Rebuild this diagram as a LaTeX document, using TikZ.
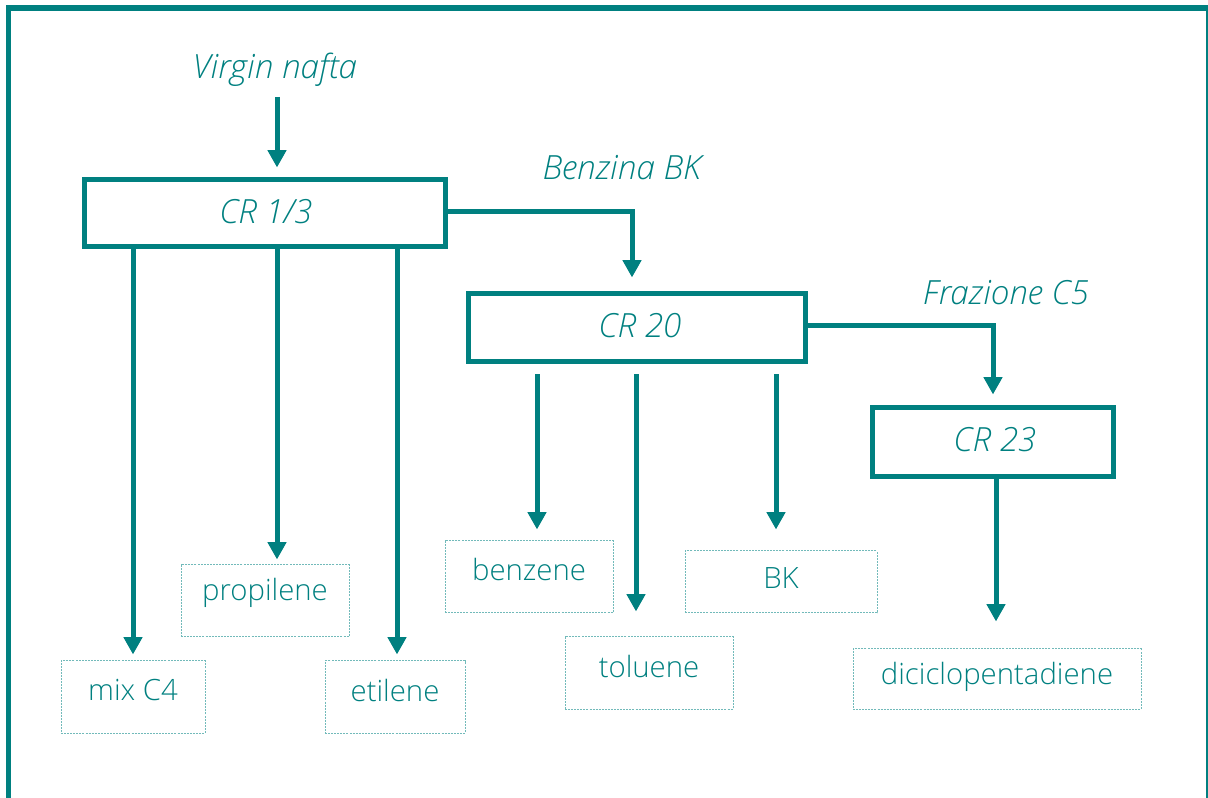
\documentclass[tikz,border=0pt]{standalone}
\usepackage{fontspec}
\IfFontExistsTF{Open Sans Light}{\setmainfont{Open Sans Light}}{\setmainfont{Open Sans}}
\usetikzlibrary{arrows.meta,calc}
\definecolor{teal0}{HTML}{008080}
\definecolor{tealdot}{HTML}{72BABA}
\begin{document}
\begin{tikzpicture}[x=0.75pt,y=-0.75pt,
  unit/.style={draw=teal0,line width=3.75pt,inner sep=0pt},
  prod/.style={draw=tealdot,line width=0.75pt,dash pattern=on 1.5pt off 0.8pt,inner sep=0pt},
  ilabel/.style={text=teal0,font=\fontsize{25pt}{28pt}\selectfont\itshape,inner sep=0pt},
  plabel/.style={text=teal0,font=\fontsize{22pt}{25pt}\selectfont,inner sep=0pt},
  flow/.style={draw=teal0,line width=3.75pt,-{Triangle[width=13.5pt,length=13pt]}},
  pipe/.style={draw=teal0,line width=3.75pt}]
\useasboundingbox (0,0) rectangle (1208,798);
\clip (0,0) rectangle (1208,798);
% outer frame
\draw[teal0,line width=4pt] (8.5,8) rectangle (1208.5,830);

% process units
\node[unit,minimum width=361*0.75pt,minimum height=67*0.75pt] (cr13) at (264.5,213.5) {};
\node[ilabel] at (266,212) {CR 1/3};
\node[unit,minimum width=337*0.75pt,minimum height=68*0.75pt] (cr20) at (636.5,328) {};
\node[ilabel] at (640,326) {CR 20};
\node[unit,minimum width=241*0.75pt,minimum height=69*0.75pt] (cr23) at (992.5,442.5) {};
\node[ilabel] at (995,440) {CR 23};

% stream labels
\node[ilabel] (vn) at (275,70) {Virgin nafta};
\node[ilabel] at (622,168) {Benzina BK};
\node[ilabel] at (1006,293) {Frazione C5};

% products
\node[prod,minimum width=144*0.75pt,minimum height=72*0.75pt] (mix) at (133,697) {};
\node[plabel] at (133,690) {mix C4};
\node[prod,minimum width=168*0.75pt,minimum height=72*0.75pt] (prop) at (265,601) {};
\node[plabel] at (265,593) {propilene};
\node[prod,minimum width=140*0.75pt,minimum height=72*0.75pt] (eti) at (395,697) {};
\node[plabel] at (395,690) {etilene};
\node[prod,minimum width=168*0.75pt,minimum height=72*0.75pt] (benz) at (529,577) {};
\node[plabel] at (529,570) {benzene};
\node[prod,minimum width=168*0.75pt,minimum height=72*0.75pt] (tol) at (649,673) {};
\node[plabel] at (649,666) {toluene};
\node[prod,minimum width=192*0.75pt,minimum height=62*0.75pt] (bk) at (781,582) {};
\node[plabel] at (781,578) {BK};
\node[prod,minimum width=288*0.75pt,minimum height=60*0.75pt] (dcpd) at (997,679) {};
\node[plabel] at (997,677) {diciclopentadiene};

% feed and intermediate streams
\draw[flow] ($(vn)+(2,27)$) -- ($(cr13.north)+(12.5,-10)$);
\draw[pipe] (cr13.east |- 0,212) -- (634.5,212);
\draw[flow] (632,210) -- ($(cr20.north)+(-4.5,-14)$);
\draw[pipe] (cr20.east |- 0,326) -- (995.5,326);
\draw[flow] (993,324) -- ($(cr23.north)+(0.5,-11)$);

% product streams from CR 1/3
\draw[flow] (cr13.south -| mix.north) -- ($(mix.north)+(0,-6)$);
\draw[flow] ($(cr13.south -| prop.north)+(12,0)$) -- ($(prop.north)+(12,-5)$);
\draw[flow] ($(cr13.south -| eti.north)+(2,0)$) -- ($(eti.north)+(2,-6)$);

% product streams from CR 20
\draw[flow] ($(cr20.south -| benz.north)+(8,10)$) -- ($(benz.north)+(8,-11)$);
\draw[flow] ($(cr20.south -| tol.north)+(-13,10)$) -- ($(tol.north)+(-13,-25)$);
\draw[flow] ($(cr20.south -| bk.north)+(-5,10)$) -- ($(bk.north)+(-5,-21)$);

% product stream from CR 23
\draw[flow] ($(cr23.south -| dcpd.north)+(-1,0)$) -- ($(dcpd.north)+(-1,-27)$);
\end{tikzpicture}
\end{document}
